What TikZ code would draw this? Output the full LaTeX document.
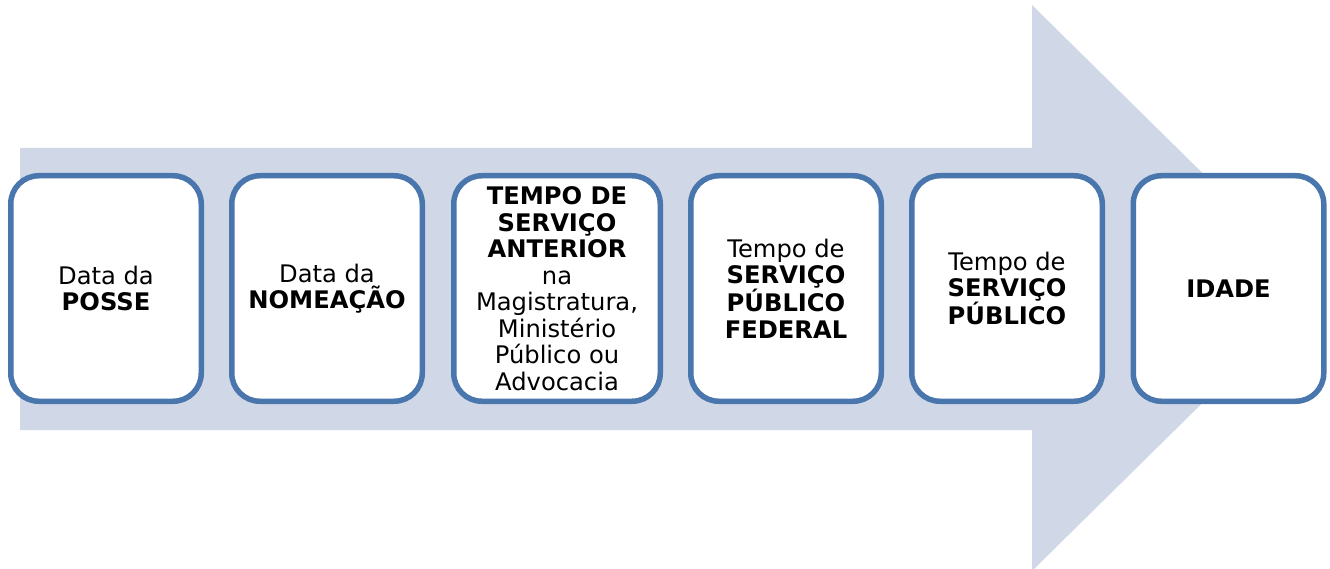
\documentclass[tikz,border=0pt]{standalone}
\usepackage{fontspec}
\setmainfont{DejaVu Sans}
\definecolor{arrowfill}{HTML}{D0D8E8}
\definecolor{boxline}{HTML}{4A76AE}
\begin{document}
\begin{tikzpicture}[x=1pt,y=-1pt,
  stagebox/.style={draw=boxline, line width=5.5pt, fill=white, rounded corners=28pt,
    minimum width=190.5pt, minimum height=225.5pt, align=center, inner sep=0pt,
    font=\fontsize{24.2pt}{26.5pt}\selectfont}]
\useasboundingbox (0,0) rectangle (1330,569);
% big arrow
\fill[arrowfill] (20,148) -- (1032,148) -- (1032,5) -- (1319,288) -- (1032,571) -- (1032,430) -- (20,430) -- cycle;
% stages
\node[stagebox] (s1) at (106,288.5) {Data da\\\textbf{POSSE}};
\node[stagebox] (s2) at (327,288.5) {Data da\\\textbf{NOMEAÇÃO}};
\node[stagebox, minimum width=206.5pt] (s3) at (557,288.5) {\textbf{TEMPO DE}\\\textbf{SERVIÇO}\\\textbf{ANTERIOR}\\na\\Magistratura,\\Ministério\\Público ou\\Advocacia};
\node[stagebox] (s4) at (786,288.5) {Tempo de\\\textbf{SERVIÇO}\\\textbf{PÚBLICO}\\\textbf{FEDERAL}};
\node[stagebox] (s5) at (1007,288.5) {Tempo de\\\textbf{SERVIÇO}\\\textbf{PÚBLICO}};
\node[stagebox] (s6) at (1228.5,288.5) {\textbf{IDADE}};
\end{tikzpicture}
\end{document}
